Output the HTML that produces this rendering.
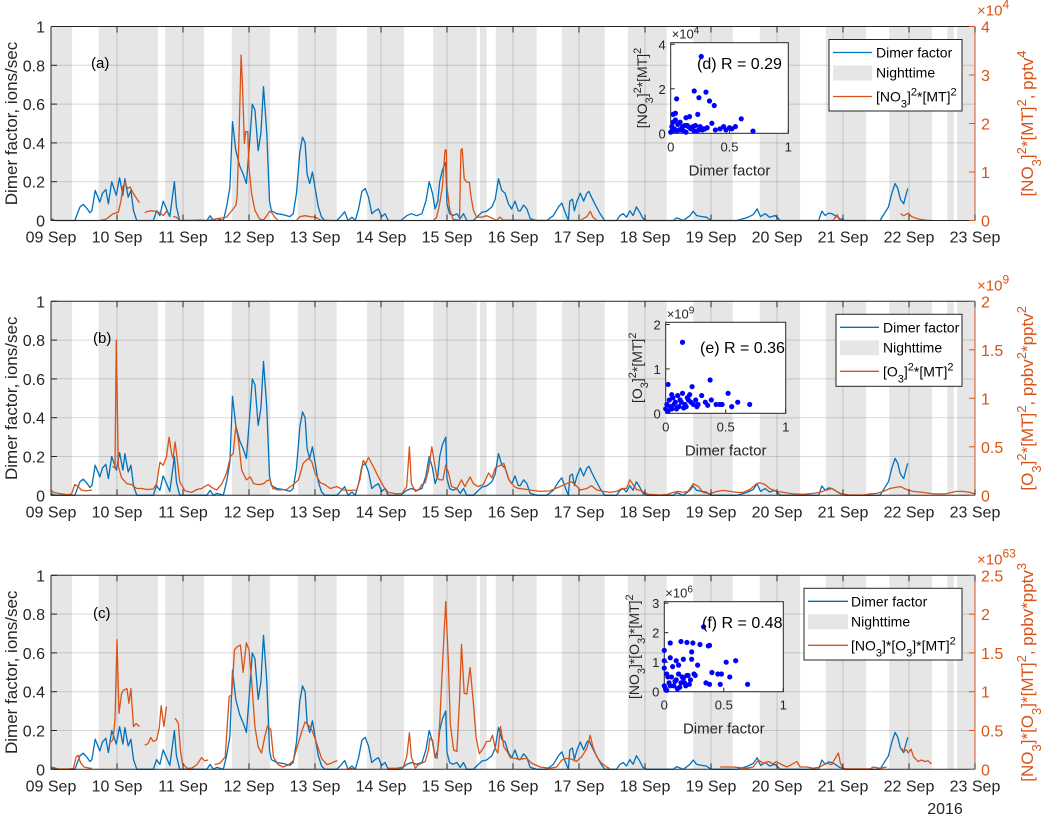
<!DOCTYPE html>
<html><head><meta charset="utf-8">
<style>
html,body{margin:0;padding:0;background:#fff;}
svg{display:block;font-family:"Liberation Sans",Arial,sans-serif;}
</style></head>
<body>
<svg id="fig" width="1045" height="816" viewBox="0 0 1045 816" xmlns="http://www.w3.org/2000/svg"></svg>
<script>
// ---------- DATA ----------
const dayLabels = ["09 Sep","10 Sep","11 Sep","12 Sep","13 Sep","14 Sep","15 Sep","16 Sep","17 Sep","18 Sep","19 Sep","20 Sep","21 Sep","22 Sep","23 Sep"];
const leftTicks = [0,0.2,0.4,0.6,0.8,1];
const leftTickLabels = ["0","0.2","0.4","0.6","0.8","1"];
const nightStart = [0,0.72,1.73,2.74,3.74,4.79,5.79,6.5,6.74,7.74,8.74,9.73,10.74,11.74,12.7,13.58,13.73];
const nightEnd   = [0.32,1.62,2.32,3.32,4.33,5.35,6.45,6.6,7.36,8.39,9.33,10.33,11.35,12.35,13.35,13.68,14];

const dimerT = [0,0.06,0.36,0.44,0.49,0.55,0.59,0.62,0.67,0.71,0.74,0.78,0.83,0.87,0.92,0.95,0.99,1.04,1.09,1.12,1.17,1.21,1.25,1.30,1.55,1.60,1.65,1.70,1.75,1.80,1.84,1.87,1.90,1.95,2.36,2.41,2.46,2.51,2.61,2.66,2.71,2.75,2.80,2.86,2.91,2.96,3.02,3.05,3.09,3.14,3.18,3.22,3.27,3.31,3.34,3.42,3.52,3.62,3.67,3.72,3.77,3.81,3.85,3.88,3.92,3.96,4.0,4.05,4.10,4.15,4.33,4.38,4.45,4.50,4.56,4.61,4.66,4.71,4.76,4.81,4.86,4.91,4.96,5.01,5.06,5.11,5.3,5.39,5.46,5.54,5.62,5.68,5.73,5.78,5.82,5.86,5.89,5.93,5.98,6.0,6.04,6.09,6.15,6.20,6.25,6.30,6.40,6.45,6.53,6.60,6.68,6.73,6.78,6.83,6.88,6.93,6.98,7.03,7.08,7.11,7.16,7.21,7.26,7.36,7.51,7.61,7.69,7.74,7.79,7.84,7.86,7.90,7.93,7.97,8.02,8.07,8.12,8.15,8.19,8.24,8.32,8.39,8.57,8.62,8.67,8.72,8.77,8.82,8.87,8.92,8.97,9.02,9.43,9.48,9.58,9.68,9.73,9.78,9.86,9.93,10.0,10.39,10.54,10.64,10.70,10.75,10.82,10.89,10.97,11.05,11.63,11.68,11.73,11.78,11.83,11.88,11.95,12.03,12.56,12.69,12.74,12.79,12.83,12.87,12.92,12.96,12.98];
const dimerV = [0.01,0,0,0.07,0.083,0.06,0.04,0.05,0.155,0.12,0.095,0.14,0.16,0.086,0.2,0.17,0.13,0.22,0.13,0.215,0.12,0.155,0.05,0,0,0.05,0.025,0.1,0.06,0.02,0.12,0.2,0.07,0,0,0.025,0,0.01,0,0.07,0.17,0.51,0.36,0.28,0.24,0.19,0.45,0.6,0.57,0.36,0.45,0.69,0.45,0.1,0.05,0.035,0.03,0.02,0.035,0.14,0.35,0.43,0.4,0.24,0.19,0.25,0.17,0.07,0.017,0,0,0.017,0.045,0,0.017,0,0.06,0.15,0.165,0.12,0.035,0.05,0.06,0.02,0.035,0,0,0.025,0.035,0.025,0.035,0.1,0.2,0.14,0.06,0.1,0.2,0.26,0.3,0.086,0.035,0.026,0.035,0.01,0.035,0,0,0.017,0.043,0.048,0.07,0.11,0.215,0.155,0.14,0.086,0.06,0.1,0.05,0.05,0.08,0.06,0.01,0,0,0.025,0.07,0.09,0.043,0,0.1,0.11,0.05,0.1,0.14,0.1,0.14,0.15,0.12,0.086,0.035,0,0,0.025,0.035,0.017,0.05,0.026,0.07,0.043,0.01,0,0,0.014,0,0.025,0.048,0.026,0.02,0.017,0,0,0.014,0.03,0.06,0.02,0.035,0.017,0.026,0,0,0.048,0.026,0.038,0.035,0.026,0.01,0,0,0.07,0.14,0.19,0.165,0.11,0.086,0.14,0.165];

const no3T = [0.09,0.74,0.84,0.94,1.02,1.06,1.09,1.12,1.16,1.20,1.25,1.30,1.34,1.38,1.42,1.47,1.52,1.58,1.65,1.70,1.75,1.78,1.81,1.85,1.90,1.95,2.26,2.36,2.66,2.76,2.80,2.82,2.85,2.88,2.90,2.93,2.95,2.98,3.0,3.04,3.09,3.16,3.22,3.27,3.31,3.34,3.39,3.44,3.72,3.77,3.85,3.92,4.0,4.08,4.28,5.79,5.84,5.88,5.93,5.97,5.99,6.0,6.04,6.09,6.19,6.21,6.23,6.26,6.30,6.34,6.36,6.40,6.45,6.53,6.60,6.68,6.75,6.80,6.85,8.02,8.12,8.17,8.21,8.27,11.85,11.91,11.95,12.4,12.6,12.87,12.92,12.99,13.04,13.14,13.24,13.34];
const no3V = [0,0,0.03,0.14,0.17,0.41,0.69,0.79,0.66,0.69,0.55,0.45,0.37,null,0.16,0.19,0.2,0.19,0.16,0.1,0.19,0.14,null,0.08,0.07,0,0.01,0,0.07,0.24,0.31,0.48,1.79,3.41,2.83,1.59,1.83,1.83,1.1,0.55,0.21,0.03,0.01,0.1,0.19,0.17,0.07,0,0,0.08,0.1,0.08,0.07,0.01,0,0,0.06,0.28,0.69,1.45,1.45,0.69,0.24,0.03,0,1.45,1.48,0.86,0.79,0.79,0.52,0.21,0.07,0.07,0.1,0.05,0,0.07,0.01,0,0.08,0.19,0.07,0,0,0.12,0,0,null,0.14,0.1,0.15,0.08,0.03,0.01,0];

const o3T = [0,0.04,0.11,0.24,0.31,0.36,0.41,0.46,0.52,0.62,0.78,0.93,0.97,0.99,1.02,1.07,1.15,1.22,1.30,1.38,1.45,1.55,1.60,1.65,1.70,1.75,1.79,1.83,1.85,1.88,1.92,1.95,2.03,2.13,2.21,2.28,2.38,2.46,2.51,2.59,2.66,2.72,2.76,2.80,2.84,2.89,2.96,3.02,3.07,3.15,3.22,3.27,3.32,3.36,3.44,3.57,3.67,3.75,3.82,3.90,3.95,4.0,4.08,4.15,4.23,4.33,4.43,4.53,4.63,4.68,4.73,4.77,4.81,4.88,4.96,5.04,5.11,5.24,5.32,5.39,5.43,5.46,5.52,5.57,5.62,5.67,5.72,5.77,5.81,5.85,5.89,5.94,5.98,6.02,6.07,6.15,6.22,6.27,6.35,6.40,6.47,6.55,6.63,6.68,6.73,6.81,6.86,6.94,7.02,7.08,7.11,7.26,7.41,7.56,7.71,7.81,7.89,7.94,8.02,8.12,8.19,8.27,8.37,8.47,8.57,8.65,8.72,8.77,8.82,8.87,8.95,9.05,9.23,9.33,9.43,9.50,9.58,9.65,9.73,9.81,9.88,9.98,10.09,10.19,10.29,10.39,10.49,10.59,10.69,10.74,10.82,10.89,10.99,11.1,11.25,11.4,11.55,11.65,11.75,11.83,11.9,11.98,12.1,12.31,12.41,12.51,12.61,12.71,12.79,12.87,12.96,13.06,13.21,13.37,13.55,13.72,13.82,13.92,14.0];
const o3V = [0.055,0.03,0.02,0.007,0.012,0.11,0.09,0.055,0.045,0.055,null,0.3,0.28,1.6,0.3,0.18,0.12,0.11,0.07,0.07,0.06,0.065,0.12,0.34,0.31,0.4,0.6,0.42,0.38,0.55,0.33,0.14,0.045,0.03,0.06,0.07,0.11,0.07,0.055,0.12,0.23,0.4,0.43,0.71,0.57,0.26,0.16,0.19,0.12,0.11,0.12,0.15,0.16,0.07,0.055,0.06,0.11,0.16,0.33,0.38,0.35,0.23,0.13,0.11,0.07,0.09,0.055,0.05,0.055,0.16,0.36,0.33,0.39,0.3,0.19,0.09,0.03,0.014,0.02,0.09,0.5,0.12,0.04,0.055,0.11,0.13,0.26,0.5,0.33,0.18,0.16,0.16,0.31,0.24,0.09,0.07,0.16,0.09,0.19,0.12,0.09,0.11,0.23,0.18,0.28,0.31,0.33,0.16,0.09,0.07,0.07,0.055,0.04,0.045,0.09,0.12,0.14,0.11,0.055,0.07,0.1,0.055,0.04,0.03,0.04,0.07,0.07,0.16,0.11,0.06,0.045,0.01,0.003,0.008,0.03,0.04,0.03,0.04,0.12,0.09,0.03,0.015,0.04,0.05,0.04,0.03,0.03,0.06,0.12,0.13,0.11,0.07,0.04,0.03,0.014,0.01,0.02,0.03,0.055,0.07,0.04,0.014,0.003,0.003,0.014,0.02,0.04,0.07,0.08,0.09,0.06,0.04,0.03,0.014,0.014,0.04,0.04,0.03,0.014];

const mixT = [0,0.05,0.11,0.25,0.34,0.38,0.41,0.45,0.5,0.59,0.62,0.75,0.89,0.94,0.97,1.0,1.03,1.07,1.10,1.15,1.18,1.21,1.25,1.29,1.34,1.38,1.42,1.47,1.51,1.55,1.60,1.64,1.67,1.71,1.75,1.8,1.88,1.93,1.96,1.99,2.06,2.13,2.21,2.28,2.33,2.38,2.43,2.48,2.56,2.64,2.70,2.74,2.78,2.82,2.87,2.91,2.96,3.0,3.04,3.09,3.14,3.19,3.24,3.28,3.33,3.37,3.44,3.52,3.60,3.67,3.73,3.80,3.85,3.90,3.95,4.0,4.05,4.10,4.18,4.25,4.30,4.34,4.4,4.48,4.6,4.8,5.11,5.24,5.34,5.39,5.43,5.46,5.52,5.57,5.62,5.67,5.72,5.74,5.78,5.82,5.85,5.89,5.93,5.98,6.02,6.05,6.10,6.15,6.19,6.22,6.26,6.30,6.35,6.40,6.44,6.49,6.55,6.60,6.65,6.69,6.73,6.77,6.81,6.86,6.91,6.96,7.03,7.08,7.11,7.21,7.28,7.41,7.56,7.66,7.74,7.81,7.89,7.96,8.04,8.12,8.17,8.21,8.27,8.34,8.42,8.46,9.5,10.14,10.34,10.54,10.64,10.72,10.79,10.87,10.94,10.99,11.07,11.15,11.22,11.30,11.35,11.45,11.55,11.65,11.75,11.83,11.88,11.93,11.96,12.0,12.05,12.41,12.46,12.56,12.66,12.78,12.89,12.92,12.96,12.99,13.03,13.07,13.14,13.19,13.24,13.29,13.34];
const mixV = [0.03,0.02,0.004,0.004,0.01,0.16,0.18,0.08,0.03,0.013,0.013,null,0.34,0.38,0.64,1.67,0.72,0.98,1.02,1.04,0.85,1.04,0.55,0.59,0.55,null,0.31,0.33,0.41,0.36,0.38,0.53,0.82,0.55,0.81,null,0.66,0.59,0.25,0.08,0.013,0.013,0.06,0.15,0.11,0.12,null,0.06,0.08,0.16,0.94,0.96,1.54,1.58,1.6,1.25,1.63,1.54,1.15,0.55,0.29,0.21,0.42,0.56,0.51,0.16,0.06,0.03,0.06,0.11,0.29,0.49,0.61,0.57,0.51,0.40,0.27,0.14,0.06,0.08,0.1,0.11,null,0.013,0.005,null,0.013,0.013,0.03,0.16,0.47,0.16,0.013,0.06,0.08,0.1,0.25,0.4,0.38,0.16,0.14,0.59,1.32,2.16,1.41,0.59,0.25,0.23,0.89,1.61,0.98,0.97,1.31,0.85,0.42,0.2,0.27,0.36,0.36,0.44,0.27,0.21,0.55,0.29,0.23,0.15,0.14,0.13,0.13,0.14,0.08,0.03,0.013,0.03,0.12,0.14,0.13,0.1,0.16,0.27,0.44,0.29,0.16,0.08,0.03,0.01,null,0.03,0.03,0.013,0.03,0.12,0.08,0.1,0.07,0.1,0.06,0.03,0.06,0.1,0.03,0.03,0.013,0.03,0.08,0.06,0.14,0.21,0.08,0.013,0.005,0.005,0.03,0.013,0.03,null,0.27,0.23,0.25,0.21,0.26,0.16,0.1,0.12,0.1,0.11,0.07];

const scatAx = [0.26,0.2,0.3,0.24,0.05,0.33,0.37,0.02,0.04,0.6,0.23,0.13,0.16,0.35,0.7,0.5,0.55,0.47,0.42,0.38,0.1,0.08,0.02,0.01,0.03,0.06,0.12,0.15,0.18,0.21,0.25,0.28,0.31,0.05,0.07,0.09,0.11,0.14,0.17,0.19,0.22,0.27,0.0,0.01,0.02,0.04,0.08,0.13,0.2,0.24,0.29,0.45,0.52];
const scatAy = [3.45,1.9,1.85,1.6,1.55,1.45,1.25,0.85,0.9,0.65,0.85,0.7,0.75,0.45,0.1,0.25,0.3,0.15,0.2,0.15,0.3,0.5,0.5,0.3,0.2,0.4,0.35,0.3,0.25,0.35,0.3,0.2,0.25,0.1,0.15,0.2,0.1,0.35,0.2,0.3,0.1,0.15,0.05,0.1,0.2,0.6,0.15,0.05,0.1,0.15,0.2,0.3,0.2];
const scatBx = [0.14,0.02,0.37,0.22,0.52,0.6,0.7,0.14,0.3,0.38,0.47,0.55,0.05,0.06,0.1,0.2,0.25,0.33,0.42,0.18,0.08,0.03,0.01,0.0,0.12,0.16,0.21,0.27,0.04,0.07,0.09,0.11,0.13,0.17,0.19,0.23,0.26,0.02,0.05,0.15,0.35,0.45];
const scatBy = [1.6,0.65,0.75,0.6,0.45,0.25,0.2,0.45,0.4,0.3,0.2,0.15,0.42,0.35,0.4,0.42,0.3,0.25,0.2,0.35,0.25,0.3,0.2,0.1,0.3,0.2,0.25,0.2,0.15,0.2,0.1,0.15,0.25,0.15,0.3,0.2,0.15,0.05,0.1,0.12,0.18,0.2];
const scatCx = [0.33,0.05,0.14,0.19,0.24,0.3,0.38,0.37,0.0,0.23,0.0,0.05,0.1,0.16,0.23,0.52,0.6,0.28,0.0,0.07,0.12,0.4,0.45,0.48,0.55,0.7,0.47,0.35,0.38,0.2,0.25,0.26,0.22,0.02,0.04,0.06,0.08,0.1,0.12,0.14,0.16,0.18,0.01,0.03,0.05,0.09,0.13,0.17,0.21,0.0,0.02,0.11,0.15,0.19];
const scatCy = [2.2,1.65,1.7,1.67,1.65,1.6,1.57,1.55,1.4,1.35,1.05,1.15,1.05,1.1,1.1,1.0,1.05,0.9,0.8,0.85,0.9,0.65,0.6,0.6,0.5,0.25,0.25,0.3,0.25,0.55,0.6,0.55,0.4,0.6,0.3,0.5,0.2,0.4,0.6,0.3,0.45,0.2,0.1,0.5,0.2,0.35,0.15,0.3,0.25,0.2,0.05,0.1,0.5,0.55];

const rTicksA = [0,1,2,3,4];
const rTicksB = [0,0.5,1,1.5,2];
const rTicksC = [0,0.5,1,1.5,2,2.5];

// ---------- DRAW ----------
const NS="http://www.w3.org/2000/svg";
const svg=document.getElementById('fig');
const BLUE="#0072BD", ORANGE="#D95319", TXT="#262626";
const L=51, R=975, H=194, NDAYS=14;
function mk(tag, attrs, parent){
  const e=document.createElementNS(NS,tag);
  for(const k in attrs) e.setAttribute(k, attrs[k]);
  (parent||svg).appendChild(e);
  return e;
}
function xOf(t){ return L + t*(R-L)/NDAYS; }

const panels=[
 {top:26.5, tag:'a', T:no3T, V:no3V, rmax:4, rticks:rTicksA, rexp:'4', rlabel:'[NO<tspan baseline-shift="sub" font-size="13">3</tspan>]<tspan baseline-shift="super" font-size="13">2</tspan>*[MT]<tspan baseline-shift="super" font-size="13">2</tspan>, pptv<tspan baseline-shift="super" font-size="13">4</tspan>',
  legLabel:'[NO<tspan baseline-shift="sub" font-size="11">3</tspan>]<tspan baseline-shift="super" font-size="11">2</tspan>*[MT]<tspan baseline-shift="super" font-size="11">2</tspan>',
  leg:{x:829,y:39.5,w:133,h:71.5,lx1:833,lx2:872,tx:876},
  ins:{x:670.7,y:42.7,w:117.6,h:90.6,ymax:4.07,yt:[0,2,4],exp:'4',sx:scatAx,sy:scatAy,r:'(d) R = 0.29',rx:697,ry:69,ylx:642,
   ylab:'[NO<tspan baseline-shift="sub" font-size="11">3</tspan>]<tspan baseline-shift="super" font-size="11">2</tspan>*[MT]<tspan baseline-shift="super" font-size="11">2</tspan>'},
  plabel:'(a)', plx:91, ply:68},
 {top:301.3, tag:'b', T:o3T, V:o3V, rmax:2, rticks:rTicksB, rexp:'9', rlabel:'[O<tspan baseline-shift="sub" font-size="13">3</tspan>]<tspan baseline-shift="super" font-size="13">2</tspan>*[MT]<tspan baseline-shift="super" font-size="13">2</tspan>, ppbv<tspan baseline-shift="super" font-size="13">2</tspan>*pptv<tspan baseline-shift="super" font-size="13">2</tspan>',
  legLabel:'[O<tspan baseline-shift="sub" font-size="11">3</tspan>]<tspan baseline-shift="super" font-size="11">2</tspan>*[MT]<tspan baseline-shift="super" font-size="11">2</tspan>',
  leg:{x:836,y:314.3,w:126,h:72,lx1:840,lx2:879,tx:883},
  ins:{x:665.7,y:322.3,w:120,h:91,ymax:2.05,yt:[0,1,2],exp:'9',sx:scatBx,sy:scatBy,r:'(e) R = 0.36',rx:700,ry:353,ylx:637,
   ylab:'[O<tspan baseline-shift="sub" font-size="11">3</tspan>]<tspan baseline-shift="super" font-size="11">2</tspan>*[MT]<tspan baseline-shift="super" font-size="11">2</tspan>'},
  plabel:'(b)', plx:93, ply:343},
 {top:575.3, tag:'c', T:mixT, V:mixV, rmax:2.5, rticks:rTicksC, rexp:'63', rlabel:'[NO<tspan baseline-shift="sub" font-size="13">3</tspan>]*[O<tspan baseline-shift="sub" font-size="13">3</tspan>]*[MT]<tspan baseline-shift="super" font-size="13">2</tspan>, ppbv*pptv<tspan baseline-shift="super" font-size="13">3</tspan>',
  legLabel:'[NO<tspan baseline-shift="sub" font-size="11">3</tspan>]*[O<tspan baseline-shift="sub" font-size="11">3</tspan>]*[MT]<tspan baseline-shift="super" font-size="11">2</tspan>',
  leg:{x:804,y:588.3,w:158,h:71.7,lx1:808,lx2:848,tx:851},
  ins:{x:664.3,y:601.7,w:119,h:90,ymax:3.05,yt:[0,1,2,3],exp:'6',sx:scatCx,sy:scatCy,r:'(f) R = 0.48',rx:702,ry:628,ylx:634,
   ylab:'[NO<tspan baseline-shift="sub" font-size="11">3</tspan>]*[O<tspan baseline-shift="sub" font-size="11">3</tspan>]*[MT]<tspan baseline-shift="super" font-size="11">2</tspan>'},
  plabel:'(c)', plx:93, ply:618}
];

function linePath(T,V,yOf){
  let d='', pen=false;
  for(let i=0;i<T.length;i++){
    if(V[i]===null||V[i]===undefined){pen=false;continue;}
    d+=(pen?'L':'M')+xOf(T[i]).toFixed(1)+' '+yOf(V[i]).toFixed(1);
    pen=true;
  }
  return d;
}

panels.forEach(p=>{
  const top=p.top, bot=top+H;
  const yL=v=>bot-v*H;
  const yR=v=>bot-(v/p.rmax)*H;
  const g=mk('g',{});
  
  
  // night bands
  for(let i=0;i<nightStart.length;i++){
    const b=mk('rect',{x:xOf(nightStart[i]),y:top,width:xOf(nightEnd[i])-xOf(nightStart[i]),height:H,fill:'#e6e6e6'},g);
    
    
  }
  // grid
  for(let d=1;d<NDAYS;d++){
    const gl=mk('line',{x1:xOf(d),x2:xOf(d),y1:top,y2:bot,stroke:'rgba(0,0,0,0.15)','stroke-width':1},g);
    
    
  }
  for(let i=1;i<leftTicks.length-1;i++){
    const gl=mk('line',{x1:L,x2:R,y1:yL(leftTicks[i]),y2:yL(leftTicks[i]),stroke:'rgba(0,0,0,0.15)','stroke-width':1},g);
    
    
  }
  // series
  const sb=mk('path',{d:linePath(dimerT,dimerV,yL),fill:'none',stroke:BLUE,'stroke-width':1.3,'stroke-linejoin':'round'},g);
  
  
  const so=mk('path',{d:linePath(p.T,p.V,yR),fill:'none',stroke:ORANGE,'stroke-width':1.3,'stroke-linejoin':'round'},g);
  
  
  // axes box
  const ax=mk('path',{d:`M${L} ${top}H${R}M${L} ${top}V${bot}H${R}`,fill:'none',stroke:'#262626','stroke-width':1},g);
  
  
  const rax=mk('line',{x1:R,x2:R,y1:top,y2:bot,stroke:ORANGE,'stroke-width':1},g);
  
  
  // x ticks and labels
  for(let d=0;d<=NDAYS;d++){
    const tk=mk('path',{d:`M${xOf(d)} ${bot}v-6M${xOf(d)} ${top}v6`,stroke:'#262626','stroke-width':1},g);
    
    
    const tl=mk('text',{x:xOf(d),y:bot+22,'text-anchor':'middle','font-size':16,fill:TXT},g);
    tl.textContent=dayLabels[d];
    
    
  }
  // left ticks
  for(let i=0;i<leftTicks.length;i++){
    const y=yL(leftTicks[i]);
    const tk=mk('line',{x1:L,x2:L+6,y1:y,y2:y,stroke:'#262626'},g);
    
    
    const tl=mk('text',{x:L-6,y:y+6,'text-anchor':'end','font-size':16,fill:TXT},g);
    tl.textContent=leftTickLabels[i];
    
    
  }
  // right ticks
  p.rticks.forEach(v=>{
    const y=yR(v);
    const tk=mk('line',{x1:R-6,x2:R,y1:y,y2:y,stroke:ORANGE},g);
    
    
    const tl=mk('text',{x:R+6,y:y+6,'font-size':16,fill:ORANGE},g);
    tl.textContent=String(v);
    
    
  });
  const ex=mk('text',{x:R+2,y:top-11,'font-size':15,fill:ORANGE},g);
  ex.innerHTML='×10<tspan baseline-shift="super" font-size="12">'+p.rexp+'</tspan>';
  
  
  // axis labels
  const yl=mk('text',{x:0,y:0,'text-anchor':'middle','font-size':17,fill:TXT,transform:`translate(17 ${top+H/2}) rotate(-90)`},g);
  yl.textContent='Dimer factor, ions/sec';
  
  
  const rl=mk('text',{x:0,y:0,'text-anchor':'middle','font-size':17,fill:ORANGE,transform:`translate(1033 ${top+H/2}) rotate(-90)`},g);
  rl.innerHTML=p.rlabel;
  
  
  const pl=mk('text',{x:p.plx,y:p.ply,'font-size':15,fill:'#000'},g);
  pl.textContent=p.plabel;
  
  
  // legend
  const lg=p.leg;
  const lgg=mk('g',{},g);
  
  
  mk('rect',{x:lg.x,y:lg.y,width:lg.w,height:lg.h,fill:'#fff',stroke:'#262626','stroke-width':1},lgg);
  const rows=[lg.y+13,lg.y+33,lg.y+57];
  const le1=mk('line',{x1:lg.lx1,x2:lg.lx2,y1:rows[0],y2:rows[0],stroke:BLUE,'stroke-width':1.3},lgg);
  
  
  const le2=mk('rect',{x:lg.lx1,y:rows[1]-7,width:lg.lx2-lg.lx1,height:15,fill:'#e6e6e6'},lgg);
  
  
  const le3=mk('line',{x1:lg.lx1,x2:lg.lx2,y1:rows[2],y2:rows[2],stroke:ORANGE,'stroke-width':1.3},lgg);
  
  
  const t1=mk('text',{x:lg.tx,y:rows[0]+5,'font-size':14,fill:'#000'},lgg);
  t1.textContent='Dimer factor';
  
  
  const t2=mk('text',{x:lg.tx,y:rows[1]+5,'font-size':14,fill:'#000'},lgg);
  t2.textContent='Nighttime';
  
  
  const t3=mk('text',{x:lg.tx,y:rows[2]+5,'font-size':14,fill:'#000'},lgg);
  t3.innerHTML=p.legLabel;
  
  
  // inset scatter
  const s=p.ins;
  const ig=mk('g',{},g);
  
  
  mk('rect',{x:s.x,y:s.y,width:s.w,height:s.h,fill:'#fff',stroke:'#262626','stroke-width':1},ig);
  const sxOf=v=>s.x+v*s.w, syOf=v=>s.y+s.h-v/s.ymax*s.h;
  [0,0.5,1].forEach((v,i)=>{
    const tl=mk('text',{x:sxOf(v),y:s.y+s.h+18,'text-anchor':'middle','font-size':13,fill:TXT},ig);
    tl.textContent=['0','0.5','1'][i];
    
    
    mk('line',{x1:sxOf(v),x2:sxOf(v),y1:s.y+s.h,y2:s.y+s.h-4,stroke:'#262626'},ig);
  });
  s.yt.forEach(v=>{
    const tl=mk('text',{x:s.x-5,y:syOf(v)+5,'text-anchor':'end','font-size':13,fill:TXT},ig);
    tl.textContent=String(v);
    
    
    mk('line',{x1:s.x,x2:s.x+4,y1:syOf(v),y2:syOf(v),stroke:'#262626'},ig);
  });
  const iex=mk('text',{x:s.x+1,y:s.y-4,'font-size':13,fill:TXT},ig);
  iex.innerHTML='×10<tspan baseline-shift="super" font-size="10">'+s.exp+'</tspan>';
  
  
  const ixl=mk('text',{x:s.x+s.w/2,y:s.y+s.h+42,'text-anchor':'middle','font-size':15,fill:TXT},ig);
  ixl.textContent='Dimer factor';
  
  
  const iyl=mk('text',{x:0,y:0,'text-anchor':'middle','font-size':14,fill:TXT,transform:`translate(${s.ylx+5} ${s.y+s.h/2}) rotate(-90)`},ig);
  iyl.innerHTML=s.ylab;
  
  
  for(let i=0;i<s.sx.length;i++){
    const c=mk('circle',{cx:sxOf(s.sx[i]),cy:syOf(s.sy[i]),r:2.6,fill:'#0000ff'},ig);
    
    
  }
  const rt=mk('text',{x:s.rx,y:s.ry,'font-size':16,fill:'#000'},ig);
  rt.textContent=s.r;
  
  
});
const yr=mk('text',{x:945,y:814,'text-anchor':'middle','font-size':16,fill:TXT});
yr.textContent='2016';


</script>
</body></html>
